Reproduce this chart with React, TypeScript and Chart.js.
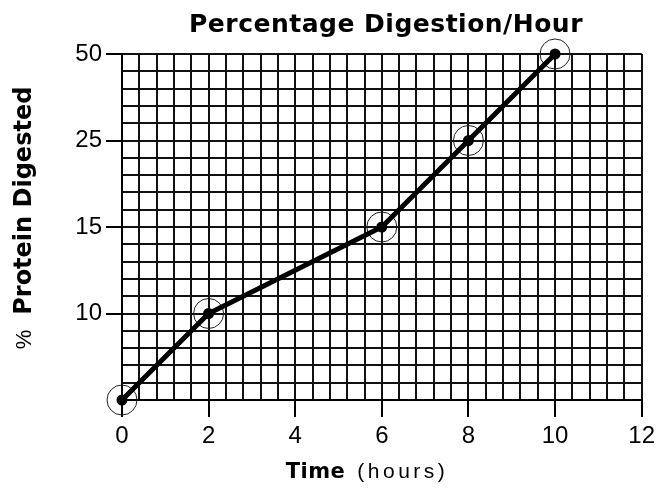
import React, { useEffect, useRef } from 'react';
import { Chart, registerables } from 'chart.js';

Chart.register(...registerables);

// ---- data ----
const chartTitle = 'Percentage Digestion/Hour';
const xTitleBold = 'Time';
const xTitleRegular = '(hours)';
const yTitlePrefix = '%';
const yTitleMain = 'Protein Digested';

const timeHours = [0, 2, 6, 8, 10];
const proteinDigested = [0, 10, 15, 25, 50];
// y-axis labels are evenly spaced (non-linear axis)
const yLevels = [0, 10, 15, 25, 50];
const xMin = 0;
const xMax = 12;
const xLabelEvery = 2;
const xMinorStep = 0.4;
const yMinorStep = 0.2;

const isNear = (a: number, b: number) => Math.abs(a - b) < 1e-6;
const xIsMajor = (v: number) => isNear(v / xLabelEvery, Math.round(v / xLabelEvery));
const yIsMajor = (v: number) => isNear(v, Math.round(v)) && Math.round(v) > 0;

const BOLD = '"DejaVu Sans", Arial, sans-serif';
const REG = '"Liberation Sans", Arial, sans-serif';

const titlesPlugin = {
  id: 'customTitles',
  afterDraw(chart: any) {
    const ctx = chart.ctx as CanvasRenderingContext2D;
    ctx.save();
    ctx.fillStyle = '#000';
    ctx.textBaseline = 'alphabetic';
    ctx.textAlign = 'left';

    // main title
    ctx.font = `bold 25px ${BOLD}`;
    (ctx as any).letterSpacing = '0.5px';
    const w = ctx.measureText(chartTitle).width;
    ctx.fillText(chartTitle, 386 - w / 2, 32);

    // x title
    ctx.font = `bold 21px ${BOLD}`;
    (ctx as any).letterSpacing = '0.5px';
    const wb = ctx.measureText(xTitleBold).width;
    ctx.font = `21px ${REG}`;
    (ctx as any).letterSpacing = '3.5px';
    const wr = ctx.measureText(xTitleRegular).width;
    const gap = 12;
    const total = wb + gap + wr;
    const x0 = 367 - total / 2;
    ctx.font = `bold 21px ${BOLD}`;
    (ctx as any).letterSpacing = '0.5px';
    ctx.fillText(xTitleBold, x0, 478);
    ctx.font = `21px ${REG}`;
    (ctx as any).letterSpacing = '3.5px';
    ctx.fillText(xTitleRegular, x0 + wb + gap, 478);

    // y title (rotated)
    ctx.translate(31, 218);
    ctx.rotate(-Math.PI / 2);
    ctx.font = `22px ${REG}`;
    (ctx as any).letterSpacing = '1px';
    const wp = ctx.measureText(yTitlePrefix).width;
    ctx.font = `bold 24px ${BOLD}`;
    (ctx as any).letterSpacing = '0px';
    const wm = ctx.measureText(yTitleMain).width;
    const ygap = 14;
    const yt = wp + ygap + wm;
    const s = -yt / 2;
    ctx.font = `22px ${REG}`;
    (ctx as any).letterSpacing = '1px';
    ctx.fillText(yTitlePrefix, s, 0);
    ctx.font = `bold 24px ${BOLD}`;
    (ctx as any).letterSpacing = '0px';
    ctx.fillText(yTitleMain, s + wp + ygap, 0);
    ctx.restore();
  },
};

export default function App() {
  const ref = useRef<HTMLCanvasElement | null>(null);

  useEffect(() => {
    if (!ref.current) return;
    const points = timeHours.map((x, i) => ({ x, y: yLevels.indexOf(proteinDigested[i]) }));
    const tickFont = { family: REG, size: 24 };

    const chart = new Chart(ref.current, {
      type: 'line',
      data: {
        datasets: [
          {
            data: points,
            borderColor: '#000',
            borderWidth: 5,
            pointRadius: 5.5,
            pointBackgroundColor: '#000',
            pointBorderWidth: 0,
            tension: 0,
            clip: false as any,
          },
          {
            data: points,
            showLine: false,
            pointRadius: 15,
            pointBorderWidth: 1,
            pointBorderColor: '#222',
            pointBackgroundColor: 'rgba(0,0,0,0)',
            clip: false as any,
          },
        ],
      },
      options: {
        animation: false,
        responsive: false,
        devicePixelRatio: 1,
        events: [],
        layout: { padding: { top: 54, right: 18, left: 0, bottom: 0 } },
        plugins: { legend: { display: false }, tooltip: { enabled: false }, title: { display: false } },
        scales: {
          x: {
            type: 'linear',
            min: xMin,
            max: xMax,
            afterFit: (s: any) => { s.height = 90; },
            ticks: {
              stepSize: xMinorStep,
              autoSkip: false,
              maxTicksLimit: 1000,
              maxRotation: 0,
              minRotation: 0,
              padding: 5,
              color: '#000',
              font: tickFont,
              callback: (v: any) => {
                const n = Number(v);
                return xIsMajor(n) ? String(Math.round(n)) : '';
              },
            },
            grid: {
              color: '#111',
              lineWidth: 2,
              tickLength: 17,
              tickWidth: 2,
              tickColor: (c: any) => (c.tick && xIsMajor(c.tick.value) ? '#000' : 'rgba(0,0,0,0)'),
            },
            border: { display: true, color: '#000', width: 2 },
          },
          y: {
            type: 'linear',
            min: 0,
            max: yLevels.length - 1,
            afterFit: (s: any) => { s.width = 122; },
            ticks: {
              stepSize: yMinorStep,
              autoSkip: false,
              maxTicksLimit: 1000,
              padding: 4,
              color: '#000',
              font: tickFont,
              callback: (v: any) => {
                const n = Number(v);
                return yIsMajor(n) ? String(yLevels[Math.round(n)]) : '';
              },
            },
            grid: {
              color: '#111',
              lineWidth: 2,
              tickLength: 16,
              tickWidth: 2,
              tickColor: (c: any) => (c.tick && yIsMajor(c.tick.value) ? '#000' : 'rgba(0,0,0,0)'),
            },
            border: { display: true, color: '#000', width: 2 },
          },
        },
      },
      plugins: [titlesPlugin],
    } as any);

    return () => chart.destroy();
  }, []);

  return (
    <div style={{ position: 'absolute', left: 0, top: 0, width: 660, height: 490, background: '#fff' }}>
      <canvas ref={ref} width={660} height={490} />
    </div>
  );
}
